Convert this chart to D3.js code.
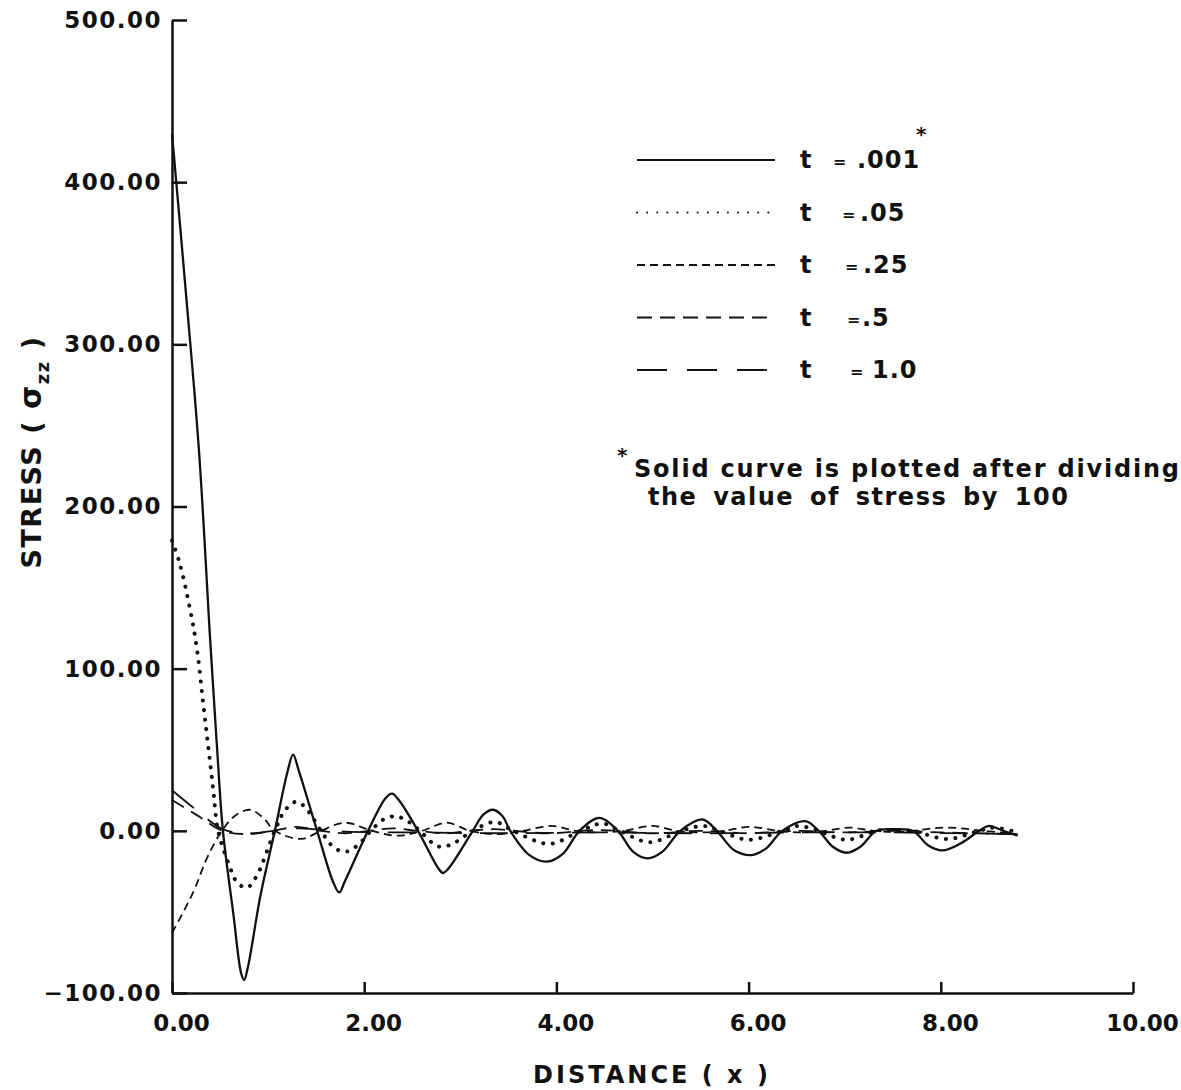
<!DOCTYPE html>
<html>
<head>
<meta charset="utf-8">
<script src="https://cdn.jsdelivr.net/npm/d3@7"></script>
<style>
  body { margin: 0; background: #fff; }
  text { font-family: "DejaVu Sans", sans-serif; font-weight: bold; fill: #111; }
</style>
</head>
<body>
<div id="chart"></div>
<script>
// tick values
const xTicks = [0, 2, 4, 6, 8, 10];
const yTicks = [-100, 0, 100, 200, 300, 400, 500];

// series: [distance, stress]
// t = .001 (already divided by 100)
const t001 = [[0, 430], [0.14, 335], [0.28, 235], [0.40, 115], [0.47, 50], [0.53, 0], [0.64, -52],
  [0.72, -88], [0.75, -92], [0.79, -84], [0.92, -40], [1.07, 0], [1.2, 36], [1.26, 47], [1.32, 37],
  [1.51, 0], [1.68, -32], [1.74, -38], [1.8, -31], [2.04, 0], [2.22, 20], [2.29, 23], [2.36, 19],
  [2.56, 0], [2.77, -23], [2.82, -26], [2.88, -23], [3.13, 0], [3.24, 10], [3.34, 13], [3.44, 9],
  [3.52, 0], [3.72, -15], [3.9, -19], [4.07, -14], [4.24, 0], [4.45, 8], [4.64, 0], [4.8, -13],
  [4.95, -17], [5.1, -13], [5.29, 0], [5.52, 7], [5.67, 0], [5.85, -12], [6.03, -15], [6.18, -11],
  [6.35, 0], [6.59, 6], [6.73, 0], [6.88, -10], [7.02, -13.5], [7.16, -10], [7.33, 0], [7.5, 1],
  [7.71, 0], [7.87, -9], [8.02, -12], [8.2, -8], [8.4, 0], [8.5, 3], [8.65, 0], [8.8, -3]];
// t = .05
const t05 = [[0, 179], [0.08, 165], [0.19, 136], [0.26, 112], [0.32, 81], [0.375, 53], [0.43, 25],
  [0.48, 0], [0.6, -22], [0.68, -32], [0.78, -35], [0.88, -28], [1.07, 0], [1.18, 13], [1.3, 18],
  [1.42, 12], [1.55, 0], [1.68, -10], [1.8, -13], [1.93, -9], [2.07, 0], [2.2, 7], [2.33, 9],
  [2.45, 6], [2.58, 0], [2.7, -7], [2.8, -10], [2.95, -7], [3.13, 0], [3.36, 5.5], [3.55, 0],
  [3.93, -8], [4.25, 0], [4.48, 4.5], [4.66, 0], [4.97, -7], [5.3, 0], [5.53, 3], [5.7, 0],
  [6.0, -5.5], [6.35, 0], [6.52, 3], [6.72, 0], [7.02, -5.5], [7.33, 0], [7.5, 0.5], [7.7, 0],
  [8.07, -5], [8.4, 0], [8.55, 2], [8.8, -1]];
// t = .25
const t25 = [[0, -63], [0.22, -38], [0.37, -16], [0.52, 0], [0.65, 9], [0.81, 13], [0.95, 8],
  [1.07, 0], [1.35, -5], [1.55, 0], [1.8, 5], [2.08, 0], [2.35, -3], [2.6, 0], [2.86, 5], [3.1, 0],
  [3.38, -2], [3.65, 0], [3.95, 3], [4.2, 0], [4.45, -1], [4.7, 0], [5.0, 3], [5.25, 0], [5.5, -1],
  [5.75, 0], [6.0, 2.5], [6.3, 0], [6.55, -1], [6.8, 0], [7.05, 2], [7.3, 0], [7.6, -0.5],
  [8.05, 2], [8.45, 0], [8.8, -2]];
// t = .5
const t5 = [[0, 19], [0.25, 10], [0.53, 0], [0.8, -2], [1.05, 0], [1.3, 2.5], [1.55, 0], [1.8, -1.5],
  [2.05, 0], [2.3, 1.5], [2.55, 0], [2.85, -1.5], [3.1, 0], [3.35, 1], [3.9, -1.5], [4.45, 0.5],
  [5, -1.5], [5.5, 0], [6, -1.5], [6.5, 0], [7, -1], [7.5, 0], [8, -1], [8.8, -2]];
// t = 1.0
const t10 = [[0, 25], [0.25, 13], [0.53, 1], [0.8, -1.5], [1.3, 1.5], [1.8, -0.5], [2.5, -1],
  [3.5, -1.5], [4.5, -1], [5.5, -1.5], [6.5, -1], [7.5, -1], [8.8, -2]];

const legendLabels = ['.001', '.05', '.25', '.5', '1.0'];

let svgWidth = 1181, svgHeight = 1090,
  plotLeft = 172, plotRight = 1133,
  plotTop = 20, plotBottom = 993;

const svg = d3.select('#chart')
  .append('svg')
  .attr('width', svgWidth)
  .attr('height', svgHeight);

const x = d3.scaleLinear().domain([0, 10]).range([plotLeft, plotRight]);
const y = d3.scaleLinear().domain([-100, 500]).range([plotBottom, plotTop]);

// x axis
const xAxis = svg.append('g')
  .attr('transform', `translate(0, ${plotBottom})`)
  .call(d3.axisBottom(x).tickValues(xTicks).tickSizeOuter(0).tickFormat(d3.format('.2f')));

// y axis
const yAxis = svg.append('g')
  .attr('transform', `translate(${plotLeft}, 0)`)
  .call(d3.axisLeft(y).tickValues(yTicks).tickSizeOuter(0).tickFormat(d3.format('.2f')));

[xAxis, yAxis].forEach(g => {
  g.select('.domain').attr('stroke', '#111').attr('stroke-width', 2.5);
  g.selectAll('.tick line').attr('stroke', '#111').attr('stroke-width', 2.5);
  g.selectAll('.tick text').attr('font-size', 23).attr('fill', '#111');
});
// ticks point into the plot
xAxis.selectAll('.tick line').attr('y1', 0).attr('y2', -11);
yAxis.selectAll('.tick line').attr('x1', 0).attr('x2', 15);
xAxis.selectAll('.tick text').attr('y', 22).attr('dx', 9);
yAxis.selectAll('.tick text').attr('x', -10).attr('letter-spacing', 1.5)
  .text(d => d3.format('.2f')(d).replace('-', '\u2212'));

// axis titles
svg.append('text')
  .attr('x', 652)
  .attr('y', 1083)
  .attr('text-anchor', 'middle')
  .attr('font-size', 24)
  .attr('letter-spacing', 3)
  .text('DISTANCE ( x )');

const yTitle = svg.append('text')
  .attr('transform', 'translate(41, 452) rotate(-90)')
  .attr('text-anchor', 'middle')
  .attr('font-size', 27)
  .attr('letter-spacing', 1.5);
yTitle.append('tspan').text('STRESS ( ');
yTitle.append('tspan').attr('font-size', 30).text('\u03c3');
yTitle.append('tspan').attr('font-size', 18).attr('dy', 8).text('zz');
yTitle.append('tspan').attr('dy', -8).text(' )');

// curves
const line = d3.line()
  .x(d => x(d[0]))
  .y(d => y(d[1]))
  .curve(d3.curveCatmullRom.alpha(0.5));

const series = [
  { data: t001, width: 2.3, dash: null, cap: 'butt' },
  { data: t05, width: 4, dash: '0.1 9.5', cap: 'round' },
  { data: t25, width: 1.8, dash: '8 5', cap: 'butt' },
  { data: t5, width: 1.8, dash: '14 8', cap: 'butt' },
  { data: t10, width: 1.8, dash: '28 18', cap: 'butt' }
];

svg.selectAll('.curve')
  .data(series)
  .enter()
  .append('path')
  .attr('class', 'curve')
  .attr('d', d => line(d.data))
  .attr('fill', 'none')
  .attr('stroke', '#111')
  .attr('stroke-width', d => d.width)
  .attr('stroke-linecap', d => d.cap)
  .attr('stroke-dasharray', d => d.dash);

// legend
const legendDash = [null, '0.1 10', '8 5', '15 8', '30 20'];
const eqX = [833, 842, 845, 847, 850];
const valX = [857, 860, 863, 862, 872];
const legend = svg.selectAll('.legend')
  .data(legendLabels)
  .enter()
  .append('g')
  .attr('class', 'legend')
  .attr('transform', (d, i) => `translate(0, ${160 + i * 52.5})`);

legend.append('line')
  .attr('x1', 637)
  .attr('x2', 775)
  .attr('stroke', '#111')
  .attr('stroke-width', (d, i) => i === 1 ? 2 : 1.8)
  .attr('stroke-linecap', (d, i) => i === 1 ? 'round' : 'butt')
  .attr('stroke-dasharray', (d, i) => legendDash[i]);

legend.append('text').attr('x', 800).attr('y', 8).attr('font-size', 24).text('t');
legend.append('text').attr('x', (d, i) => eqX[i]).attr('y', 7).attr('font-size', 16).text('=');
legend.append('text')
  .attr('x', (d, i) => valX[i])
  .attr('y', 8)
  .attr('font-size', 24)
  .attr('letter-spacing', 1)
  .text(d => d);

svg.append('text').attr('x', 916).attr('y', 141).attr('font-size', 20).text('*');

// footnote
svg.append('text').attr('x', 617).attr('y', 462).attr('font-size', 20).text('*');
svg.append('text').attr('x', 634).attr('y', 477).attr('font-size', 24).attr('letter-spacing', 1.8)
  .text('Solid curve is plotted after dividing');
svg.append('text').attr('x', 648).attr('y', 505).attr('font-size', 24).attr('letter-spacing', 1.5)
  .attr('word-spacing', 6)
  .text('the value of stress by 100');
</script>
</body>
</html>
